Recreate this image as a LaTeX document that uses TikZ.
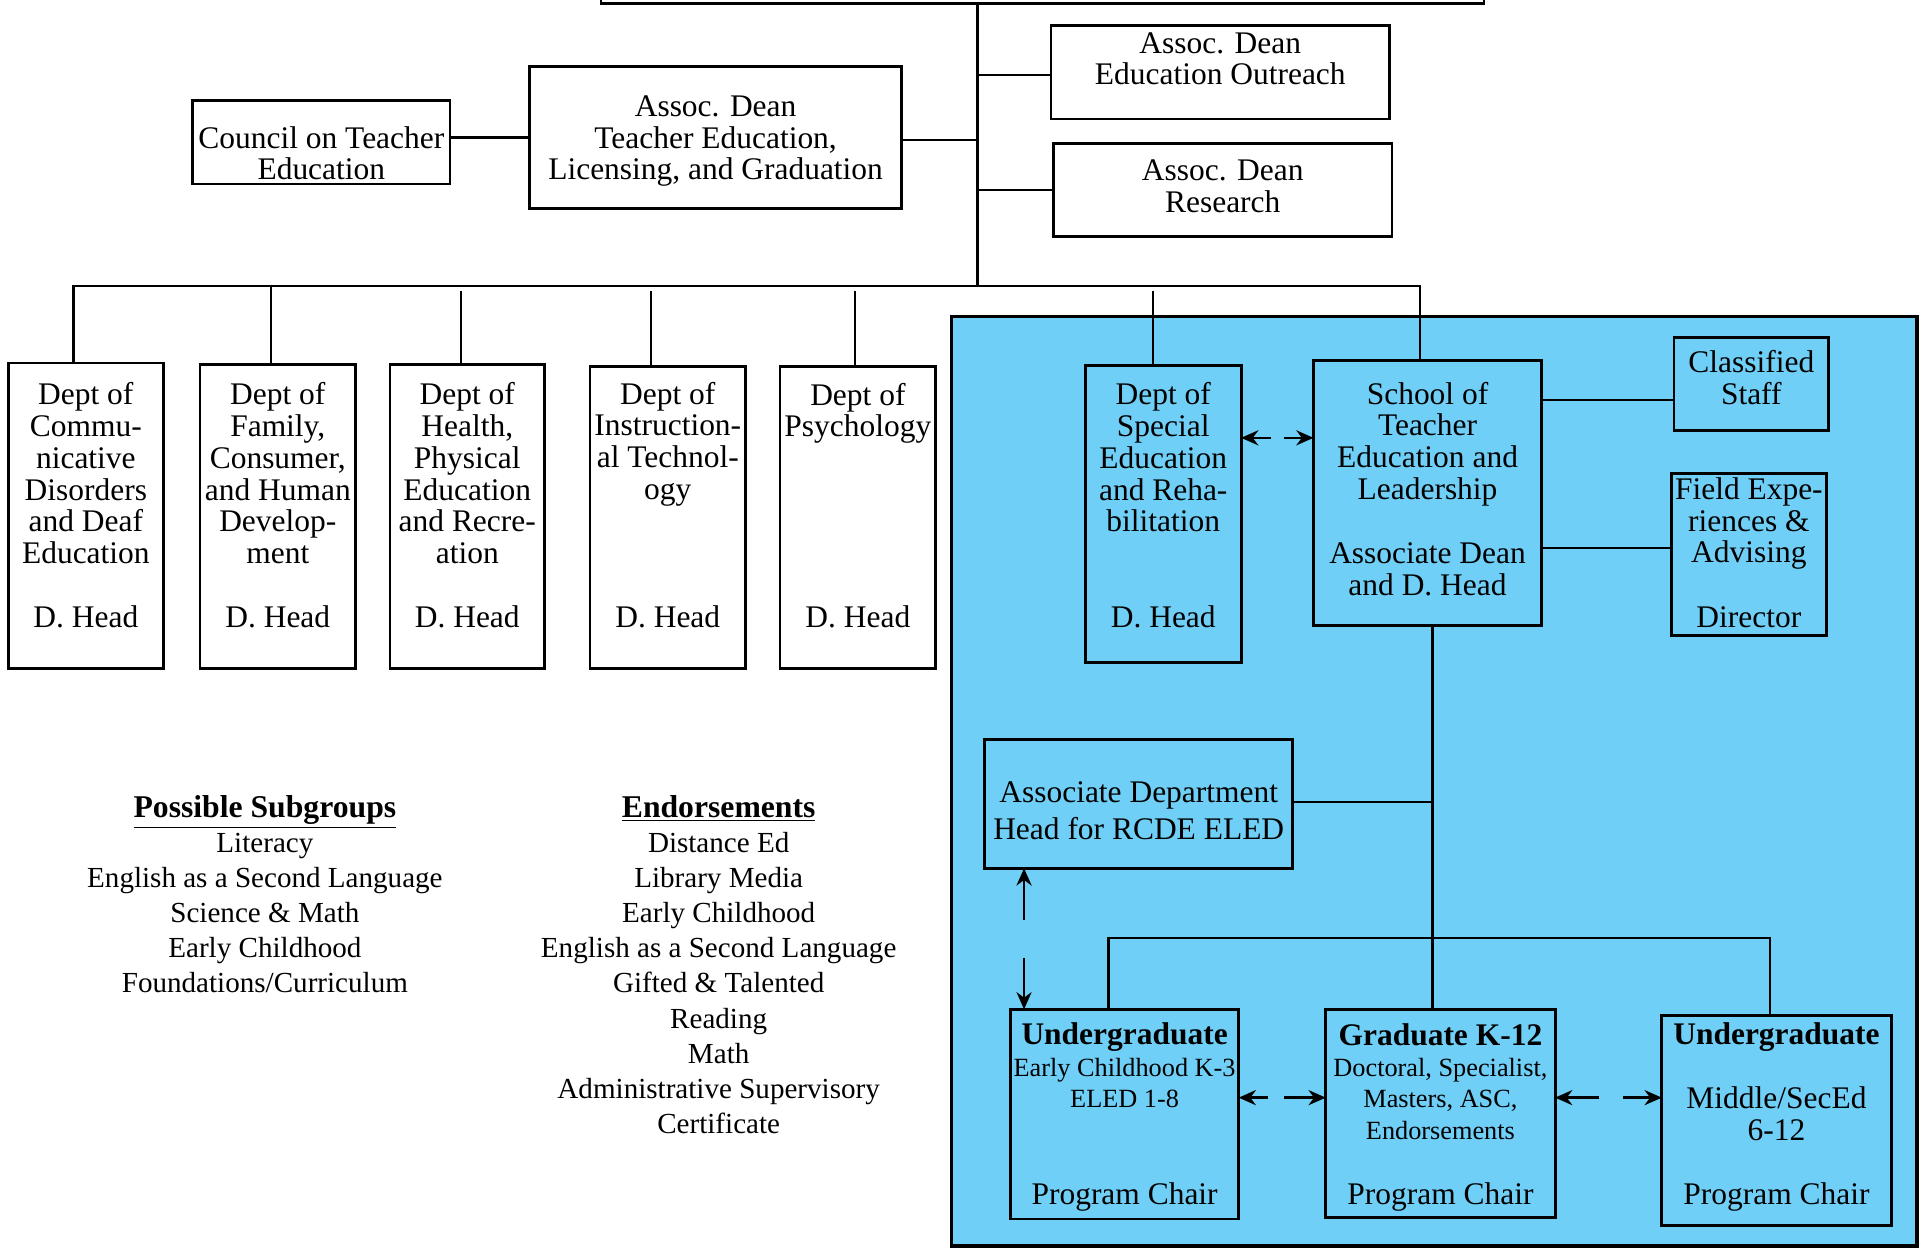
\documentclass[tikz,border=0pt]{standalone}
\usepackage{fontspec}
\setmainfont{Liberation Serif}
\usetikzlibrary{arrows.meta}
\definecolor{skyb}{RGB}{112,207,246}
\tikzset{
 box/.style={draw, line width=1.3pt, inner sep=0pt, outer sep=0pt},
 lbl/.style={align=center, inner sep=0pt, font=\fontsize{14.6pt}{14.74pt}\selectfont},
 sml/.style={align=center, inner sep=0pt, font=\fontsize{12.2pt}{14.74pt}\selectfont},
 lst/.style={align=center, inner sep=0pt, font=\fontsize{13.5pt}{16.3pt}\selectfont},
 con/.style={line width=1.1pt},
 arr/.style={line width=1.2pt, -{Stealth[length=8pt,width=7pt]}},
}
\newcommand\mkbox[6][]{\node[box,#1, minimum width={(#5-#3)*0.02cm}, minimum height={(#6-#4)*0.02cm}] (#2) at ({(#3+#5)/2},{(#4+#6)/2}) {};}
\begin{document}
\begin{tikzpicture}[x=0.02cm,y=-0.02cm]
\useasboundingbox (0,0) rectangle (1568,1018);
% blue unit
\mkbox[fill=skyb,line width=1.6pt]{unit}{776}{258}{1563}{1016}
% top
\node[box, minimum width={720*0.02cm}, minimum height={60*0.02cm}] (dean) at (850,-27) {};
\mkbox{outreach}{857}{21}{1133}{97}
\mkbox{research}{859}{117}{1135}{193}
\mkbox{tedu}{432}{54}{735}{170}
\mkbox{council}{157}{82}{367}{150}
\node[lbl] (outreacht) at (995,48) {Assoc. Dean\\Education Outreach};
\node[lbl] (researcht) at (997,152) {Assoc. Dean\\Research};
\node[lbl] (tedut) at (583.5,115) {Assoc. Dean\\Teacher Education,\\Licensing, and Graduation};
\node[lbl] (councilt) at (262,125) {Council on Teacher\\Education};
% departments
\mkbox{d1}{7}{296}{133}{545}
\mkbox{d2}{163}{297}{290}{545}
\mkbox{d3}{318}{297}{444}{545}
\mkbox{d4}{481}{299}{608}{545}
\mkbox{d5}{636}{299}{763}{545}
\node[lbl] (d1t) at (70,386) {Dept of\\Commu-\\nicative\\Disorders\\and Deaf\\Education};
\node[lbl] (d2t) at (226.5,386) {Dept of\\Family,\\Consumer,\\and Human\\Develop-\\ment};
\node[lbl] (d3t) at (381,386) {Dept of\\Health,\\Physical\\Education\\and Recre-\\ation};
\node[lbl] (d4t) at (544.5,362) {Dept of\\Instruction-\\al Technol-\\ogy};
\node[lbl] (d5t) at (699.5,337) {Dept of\\Psychology};
\foreach \n/\x in {d1/70,d2/226.5,d3/381,d4/544.5,d5/699.5}
  \node[lbl] (\n h) at (\x,503) {D. Head};
% unit boxes
\mkbox{spec}{885}{298}{1012}{540}
\mkbox{school}{1071}{294}{1257}{510}
\mkbox{classified}{1365}{275}{1491}{351}
\mkbox{field}{1363}{386}{1489}{518}
\mkbox{adh}{803}{603}{1054}{708}
\mkbox{ug1}{824}{823}{1010}{994}
\mkbox{grad}{1081}{823}{1268}{993}
\mkbox{ug2}{1355}{828}{1542}{999}
\node[lbl] (spect) at (948.5,373) {Dept of\\Special\\Education\\and Reha-\\bilitation};
\node[lbl] (spech) at (948.5,503) {D. Head};
\node[lbl] (schoolt) at (1164,362) {School of\\Teacher\\Education and\\Leadership};
\node[lbl] (schoolh) at (1164,464) {Associate Dean\\and D. Head};
\node[lbl] (classifiedt) at (1428,308) {Classified\\Staff};
\node[lbl] (fieldt) at (1426,427) {Field Expe-\\riences \&\\Advising};
\node[lbl] (fieldh) at (1426,503) {Director};
\node[lbl] (adht) at (928.5,661) {Associate Department\\[2.5pt]Head for RCDE ELED};
\node[lbl,font=\fontsize{14.6pt}{14.74pt}\selectfont\bfseries] (ug1t) at (917,846) {Undergraduate};
\node[sml] (ug1s) at (917,883) {Early Childhood K-3\\ELED 1-8};
\node[lbl] (ug1h) at (917,976) {Program Chair};
\node[lbl,font=\fontsize{14.6pt}{14.74pt}\selectfont\bfseries] (gradt) at (1174.5,844) {Graduate K-12};
\node[sml] (grads) at (1174.5,896) {Doctoral, Specialist,\\Masters, ASC,\\Endorsements};
\node[lbl] (gradh) at (1174.5,976) {Program Chair};
\node[lbl,font=\fontsize{14.6pt}{14.74pt}\selectfont\bfseries] (ug2t) at (1448.5,846) {Undergraduate};
\node[lbl] (ug2s) at (1448.5,908) {Middle/SecEd\\6-12};
\node[lbl] (ug2h) at (1448.5,976) {Program Chair};
% lists
\node[lst] (subgroups) at (216,729) {{\fontsize{14.7pt}{16.3pt}\selectfont\bfseries\underline{Possible Subgroups}}\\Literacy\\English as a Second Language\\Science \& Math\\Early Childhood\\Foundations/Curriculum};
\node[lst] (endorse) at (586,786.5) {{\fontsize{14.7pt}{16.3pt}\selectfont\bfseries\underline{Endorsements}}\\Distance Ed\\Library Media\\Early Childhood\\English as a Second Language\\Gifted \& Talented\\Reading\\Math\\Administrative Supervisory\\Certificate};
% connectors
\draw[con] (dean.south -| 797,0) -- (797,233);
\draw[con] (council.east |- 0,112) -- (tedu.west |- 0,112);
\draw[con] (tedu.east |- 0,114) -- (797,114);
\draw[con] (797,61) -- (outreach.west |- 0,61);
\draw[con] (797,155) -- (research.west |- 0,155);
\draw[con] (d1.north -| 60,0) -- (60,233) -- (1158,233) -- (school.north -| 1158,0);
\draw[con] (d2.north -| 221,0) -- (221,233);
\draw[con] (d3.north -| 376,0) -- (376,237);
\draw[con] (d4.north -| 531,0) -- (531,237);
\draw[con] (d5.north -| 697,0) -- (697,237);
\draw[con] (spec.north -| 940,0) -- (940,237);
\draw[con] (school.east |- 0,326) -- (classified.west |- 0,326);
\draw[con] (school.east |- 0,447) -- (field.west |- 0,447);
\draw[con] (school.south -| 1168,0) -- (grad.north -| 1168,0);
\draw[con] (adh.east |- 0,654) -- (1168,654);
\draw[con] (ug1.north -| 904,0) -- (904,765) -- (1443,765) -- (ug2.north -| 1443,0);
% arrows
\draw[arr] (1036,357) -- (spec.east |- 0,357);
\draw[arr] (1047,357) -- (school.west |- 0,357);
\draw[arr] (1034,895) -- (ug1.east |- 0,895);
\draw[arr] (1047,895) -- (grad.west |- 0,895);
\draw[arr] (1304,895) -- (grad.east |- 0,895);
\draw[arr] (1323,895) -- (ug2.west |- 0,895);
\draw[arr] (835,750) -- (adh.south -| 835,0);
\draw[arr] (835,781) -- (ug1.north -| 835,0);
\end{tikzpicture}
\end{document}
